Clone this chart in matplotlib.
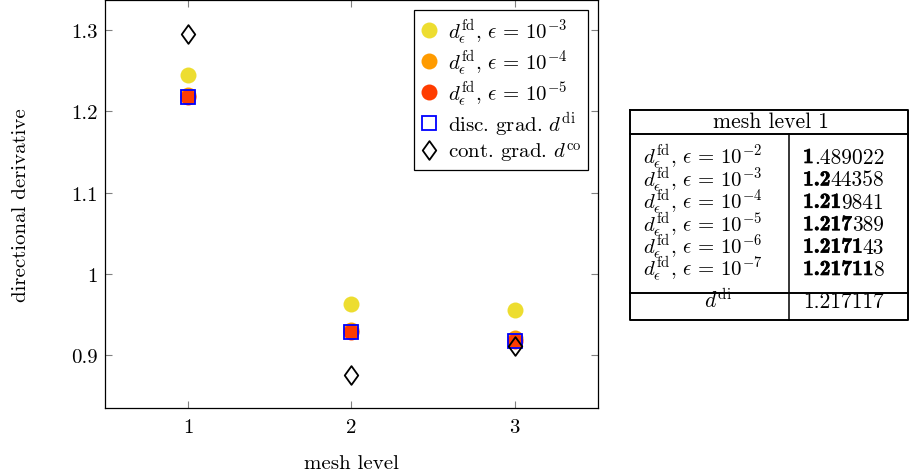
import numpy as np
import matplotlib
matplotlib.use('Agg')
import matplotlib.pyplot as plt
import matplotlib.patheffects as pe
from matplotlib.path import Path
from matplotlib.ticker import FuncFormatter

plt.rcParams['font.family'] = 'serif'
plt.rcParams['font.serif'] = ['cmr10']
plt.rcParams['mathtext.fontset'] = 'cm'
plt.rcParams['axes.unicode_minus'] = False

# data
levels = [1, 2, 3]
fd_eps3 = [1.244358, 0.963, 0.955]
fd_eps4 = [1.219841, 0.931, 0.921]
fd_eps5 = [1.217389, 0.9287, 0.918]
disc_grad = [1.217117, 0.9285, 0.9176]
cont_grad = [1.295, 0.876, 0.911]

# table (mesh level 1)
table_exps = [-2, -3, -4, -5, -6, -7]
table_vals = ['1.489022', '1.244358', '1.219841', '1.217389', '1.217143', '1.217118']
table_bold = [1, 3, 4, 5, 6, 7]   # leading characters printed bold
table_di = '1.217117'

c_yellow = '#EDDD30'
c_orange = '#FF9B00'
c_red = '#FF3C00'

diamond = Path([(0, 1), (0.72, 0), (0, -1), (-0.72, 0), (0, 1)],
               [Path.MOVETO, Path.LINETO, Path.LINETO, Path.LINETO, Path.CLOSEPOLY])

def fd_label(e):
    return r'$d^{\mathrm{fd}}_{\epsilon},\, \epsilon \,=\, 10^{%d}$' % e

fig = plt.figure(figsize=(9.09, 4.77), dpi=100)
ax = fig.add_axes([105/909, 68/477, 493/909, 408/477])

FS = 15
ax.plot(levels, fd_eps3, 'o', color=c_yellow, ms=11.5, mec='none', label=fd_label(-3))
ax.plot(levels, fd_eps4, 'o', color=c_orange, ms=11.5, mec='none', label=fd_label(-4))
ax.plot(levels, fd_eps5, 'o', color=c_red, ms=11.5, mec='none', label=fd_label(-5))
ax.plot(levels, disc_grad, 's', mfc='none', mec='blue', mew=1.3, ms=9.5,
        label=r'disc. grad. $d^{\mathrm{di}}$')
ax.plot(levels, cont_grad, marker=diamond, ls='none', mfc='none', mec='black',
        mew=1.3, ms=13.5, label=r'cont. grad. $d^{\mathrm{co}}$')

ax.set_xlim(0.49, 3.51)
ax.set_ylim(0.835, 1.337)
ax.set_xticks(levels)
ax.set_yticks([0.9, 1.0, 1.1, 1.2, 1.3])
ax.yaxis.set_major_formatter(FuncFormatter(lambda v, p: '%g' % v))
ax.tick_params(direction='in', top=True, right=True, length=5, width=0.8,
               color='#808080', labelsize=FS)
ax.tick_params(axis='x', pad=7)
ax.tick_params(axis='y', pad=5)
for s in ax.spines.values():
    s.set_linewidth(0.9)
ax.set_xlabel('mesh level', fontsize=FS, labelpad=13)
ax.set_ylabel('directional derivative', fontsize=FS, labelpad=30)

leg = ax.legend(loc='upper right', fontsize=FS, frameon=True, fancybox=False,
                edgecolor='black', framealpha=1, borderaxespad=0.5,
                handlelength=0.8, handletextpad=0.5, labelspacing=0.08,
                borderpad=0.3)
leg.get_frame().set_linewidth(0.9)

# table on the right, drawn in figure pixel coordinates
tx = fig.add_axes([0, 0, 1, 1], zorder=-1)
tx.set_xlim(0, 909)
tx.set_ylim(477, 0)
tx.axis('off')
L, R, T, B = 629.5, 908, 110.5, 321
tx.plot([L, R, R, L, L], [T, T, B, B, T], color='black', lw=1.4)
tx.plot([L, R], [135, 135], color='black', lw=1.4)
tx.plot([L, R], [294, 294], color='black', lw=1.4)
tx.plot([789, 789], [135, B], color='black', lw=1.1)

TFS = 15.5
tx.text(771, 128, 'mesh level 1', ha='center', va='baseline', fontsize=TFS)
for i in range(len(table_vals)):
    y = 164 + 22.4 * i
    tx.text(703, y, fd_label(table_exps[i]), ha='center', va='baseline', fontsize=15)
    v = table_vals[i]
    nb = table_bold[i]
    tb = tx.text(803, y, v[:nb], ha='left', va='baseline', fontsize=TFS,
                 family='cmb10',
                 path_effects=[pe.withStroke(linewidth=0.45, foreground='black')])
    tx.annotate(v[nb:], xy=(1, 0), xycoords=tb, ha='left', va='bottom',
                fontsize=TFS)
tx.text(718, 308, r'$d^{\mathrm{di}}$', ha='center', va='baseline', fontsize=TFS)
tx.text(803, 308, table_di, ha='left', va='baseline', fontsize=TFS)

fig.savefig('out.png', dpi=100)
